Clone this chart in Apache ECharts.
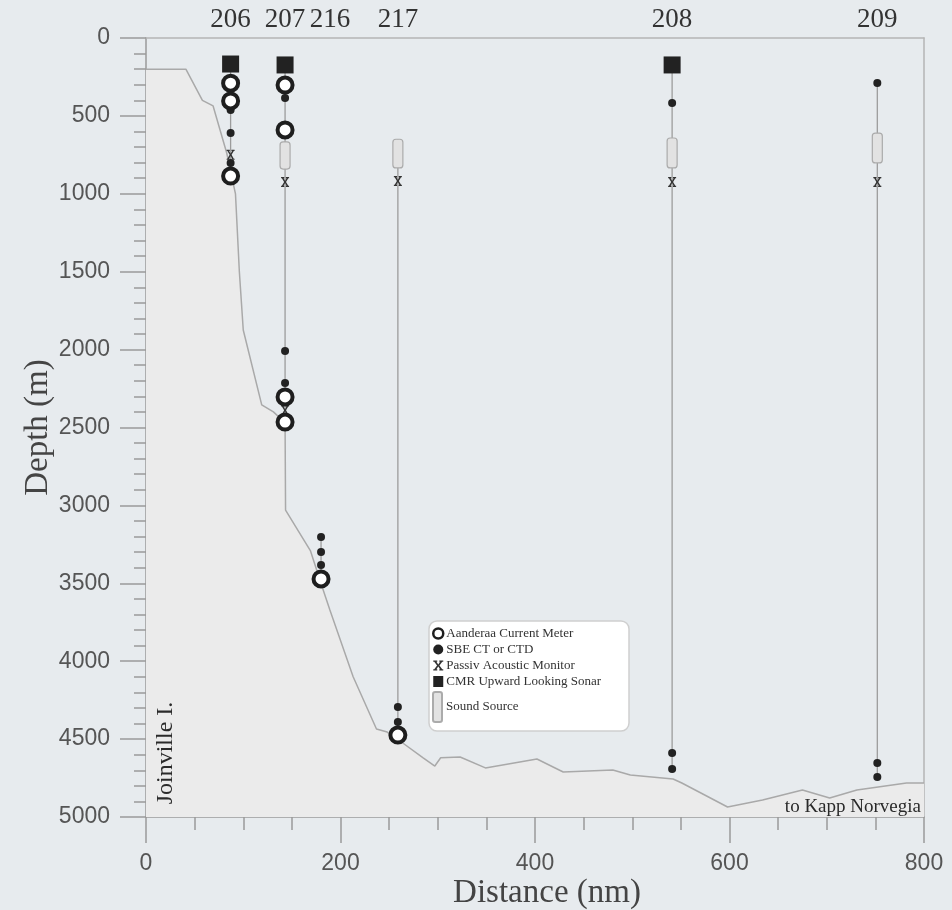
<!DOCTYPE html>
<html>
<head>
<meta charset="utf-8">
<title>Mooring array section</title>
<script src="https://cdn.jsdelivr.net/npm/echarts@6/dist/echarts.min.js"></script>
<style>
  html, body { margin: 0; padding: 0; background: #e7ebee; }
  #chart { width: 952px; height: 910px; }
</style>
</head>
<body>
<div id="chart"></div>
<script>
// bathymetry along the section (distance nm, depth m)
var bathyDist  = [0, 41, 58, 69, 83, 92, 96, 100, 119, 131, 143, 143.5, 169, 181, 189, 213, 237, 248, 264, 285, 297, 303, 323, 349, 402, 429, 480, 498, 542, 551, 598, 634, 675, 703, 731, 782, 800];
var bathyDepth = [200, 200, 400, 436, 738, 1000, 1500, 1874, 2355, 2400, 2470, 3030, 3290, 3520, 3670, 4100, 4435, 4455, 4525, 4620, 4673, 4620, 4615, 4685, 4628, 4711, 4698, 4730, 4756, 4782, 4936, 4891, 4827, 4878, 4827, 4782, 4782];

// moorings
var moorNames = ['206', '207', '216', '217', '208', '209'];
var moorDist  = [87, 143, 180, 259, 541, 752];
var moorTop   = [167, 173, 3203, 650, 173, 289];
var moorBot   = [886, 2465, 3472, 4474, 4692, 4743];

// instruments [distance, depth]
var currentMeters = [[87, 290], [87, 404], [87, 886], [143, 302], [143, 590], [143, 2304], [143, 2465], [180, 3472], [259, 4474]];
var ctds = [[87, 462], [87, 610], [87, 802], [143, 385], [143, 2009], [143, 2214], [180, 3203], [180, 3299], [180, 3383],
            [259, 4294], [259, 4390], [541, 417], [541, 4589], [541, 4692], [752, 289], [752, 4653], [752, 4743]];
var pams = [[87, 750], [143, 924], [143, 2390], [259, 918], [541, 924], [752, 924]];
var sonars = [[87, 167], [143, 173], [541, 173]];
// sound source [distance, top depth, bottom depth]
var soundSources = [[143, 667, 841], [259, 650, 834], [541, 642, 834], [752, 610, 802]];

var xTicks = [0, 200, 400, 600, 800];
var yTicks = [0, 500, 1000, 1500, 2000, 2500, 3000, 3500, 4000, 4500, 5000];

var bathy = bathyDist.map(function (d, i) { return [d, bathyDepth[i]]; });
var moorings = moorDist.map(function (d, i) { return [d, moorTop[i], moorBot[i]]; });

var serif = 'Liberation Serif';
var sans = 'Liberation Sans';
// little serif "x" used for the acoustic monitors
var pamIcon = 'path://M0,0H4V1.2H3.2L5,4L6.8,1.2H6V0H10V1.2H9L6.2,5L9,8.8H10V10H6V8.8H6.8L5,6L3.2,8.8H4V10H0V8.8H1L3.8,5L1,1.2H0Z';

var chart = echarts.init(document.getElementById('chart'));

var option = {
  backgroundColor: '#e7ebee',
  animation: false,
  grid: { left: 146, right: 28, top: 38, bottom: 93, outerBoundsMode: 'none' },
  xAxis: [{
    type: 'value',
    min: xTicks[0],
    max: xTicks[xTicks.length - 1],
    interval: 200,
    name: 'Distance (nm)',
    nameLocation: 'middle',
    nameMoveOverlap: false,
    nameGap: 60,
    nameTextStyle: { fontFamily: serif, fontSize: 33, color: '#444', padding: [0, 0, 0, 24] },
    axisLine: { onZero: false, lineStyle: { color: '#9a9a9a', width: 1.5 } },
    axisTick: { length: 26, lineStyle: { color: '#9a9a9a', width: 1.5 } },
    minorTick: { show: true, splitNumber: 4, length: 13, lineStyle: { color: '#9a9a9a', width: 1.5 } },
    splitLine: { show: false },
    axisLabel: { fontFamily: sans, fontSize: 23, color: '#555', margin: 35 }
  }, {
    type: 'value',
    position: 'top',
    min: xTicks[0],
    max: xTicks[xTicks.length - 1],
    axisLine: { show: true, onZero: false, lineStyle: { color: '#b5b5b5', width: 1.5 } },
    axisTick: { show: false },
    minorTick: { show: false },
    splitLine: { show: false },
    axisLabel: {
      customValues: moorDist,
      margin: 5,
      fontFamily: serif, fontSize: 27, color: '#333',
      formatter: function (v) {
        var n = moorNames[moorDist.indexOf(v)];
        return n === '216' ? '{s|' + n + '}' : n;
      },
      rich: { s: { fontFamily: serif, fontSize: 27, color: '#333', padding: [0, 0, 0, 18] } }
    }
  }],
  yAxis: [{
    type: 'value',
    inverse: true,
    min: yTicks[0],
    max: yTicks[yTicks.length - 1],
    interval: 500,
    name: 'Depth (m)',
    nameLocation: 'middle',
    nameMoveOverlap: false,
    nameGap: 91,
    nameTextStyle: { fontFamily: serif, fontSize: 33, color: '#444' },
    axisLine: { show: true, onZero: false, lineStyle: { color: '#9a9a9a', width: 1.5 } },
    axisTick: { length: 26, lineStyle: { color: '#9a9a9a', width: 1.5 } },
    minorTick: { show: true, splitNumber: 5, length: 12, lineStyle: { color: '#9a9a9a', width: 1.5 } },
    splitLine: { show: false },
    axisLabel: {
      fontFamily: sans, fontSize: 23, color: '#555', margin: 36,
      formatter: function (v) { return String(v); }
    }
  }, {
    type: 'value',
    position: 'right',
    inverse: true,
    min: yTicks[0],
    max: yTicks[yTicks.length - 1],
    axisLine: { show: true, onZero: false, lineStyle: { color: '#b5b5b5', width: 1.5 } },
    axisTick: { show: false },
    axisLabel: { show: false },
    splitLine: { show: false }
  }],
  legend: [{
    orient: 'vertical',
    left: 432,
    top: 627,
    padding: 0,
    itemWidth: 10,
    itemHeight: 11,
    itemGap: 3,
    textStyle: { fontFamily: serif, fontSize: 13, color: '#333', padding: [0, 0, 0, -2] },
    data: [
      { name: 'Aanderaa Current Meter', itemStyle: { borderWidth: 2.5 } },
      'SBE CT or CTD',
      'Passiv Acoustic Monitor',
      'CMR Upward Looking Sonar'
    ]
  }, {
    orient: 'vertical',
    left: 432,
    top: 691,
    padding: 0,
    itemWidth: 9,
    itemHeight: 30,
    textStyle: { fontFamily: serif, fontSize: 13, color: '#333', padding: [0, 0, 0, -1] },
    data: [{ name: 'Sound Source', icon: 'roundRect' }]
  }],
  graphic: [{
    type: 'rect',
    z: 0,
    shape: { x: 429, y: 621, width: 200, height: 110, r: 8 },
    style: { fill: '#ffffff', stroke: '#cfcfcf', lineWidth: 1.5 }
  }, {
    type: 'text',
    z: 10,
    x: 166, y: 753,
    rotation: Math.PI / 2,
    style: { text: 'Joinville I.', fontFamily: serif, fontSize: 24, fill: '#2a2a2a', align: 'center', verticalAlign: 'middle' }
  }, {
    type: 'text',
    z: 10,
    x: 921, y: 807,
    style: { text: 'to Kapp Norvegia', fontFamily: serif, fontSize: 19, fill: '#2a2a2a', align: 'right', verticalAlign: 'middle' }
  }],
  series: [{
    name: 'Bathymetry',
    type: 'line',
    data: bathy,
    symbol: 'none',
    z: 1,
    lineStyle: { color: '#a9a9a9', width: 1.5 },
    areaStyle: { color: '#ebebeb', opacity: 1, origin: 'end' }
  }, {
    name: 'Mooring',
    type: 'custom',
    data: moorings,
    encode: { x: 0, y: [1, 2] },
    z: 2,
    renderItem: function (params, api) {
      var a = api.coord([api.value(0), api.value(1)]);
      var b = api.coord([api.value(0), api.value(2)]);
      return { type: 'line', shape: { x1: a[0], y1: a[1], x2: b[0], y2: b[1] }, style: { stroke: '#9c9c9c', lineWidth: 1.3 } };
    }
  }, {
    name: 'Sound Source',
    type: 'custom',
    data: soundSources,
    encode: { x: 0, y: [1, 2] },
    z: 3,
    itemStyle: { color: '#e2e2e2', borderColor: '#ababab', borderWidth: 1.2 },
    renderItem: function (params, api) {
      var a = api.coord([api.value(0), api.value(1)]);
      var b = api.coord([api.value(0), api.value(2)]);
      return {
        type: 'rect',
        shape: { x: a[0] - 5, y: a[1], width: 10, height: b[1] - a[1], r: 3 },
        style: { fill: '#e2e2e2', stroke: '#ababab', lineWidth: 1.2 }
      };
    }
  }, {
    name: 'SBE CT or CTD',
    type: 'scatter',
    data: ctds,
    z: 4,
    symbol: 'circle',
    symbolSize: 8,
    itemStyle: { color: '#222', opacity: 1 }
  }, {
    name: 'Passiv Acoustic Monitor',
    type: 'scatter',
    data: pams,
    z: 4,
    symbol: pamIcon,
    symbolSize: [8, 10],
    itemStyle: { color: '#333', opacity: 1 }
  }, {
    name: 'Aanderaa Current Meter',
    type: 'scatter',
    data: currentMeters,
    z: 5,
    symbol: 'circle',
    symbolSize: 15,
    itemStyle: { color: '#ffffff', borderColor: '#1e1e1e', borderWidth: 4, opacity: 1 }
  }, {
    name: 'CMR Upward Looking Sonar',
    type: 'scatter',
    data: sonars,
    z: 5,
    symbol: 'rect',
    symbolSize: 17,
    itemStyle: { color: '#222', opacity: 1 }
  }]
};

chart.setOption(option);
</script>
</body>
</html>
